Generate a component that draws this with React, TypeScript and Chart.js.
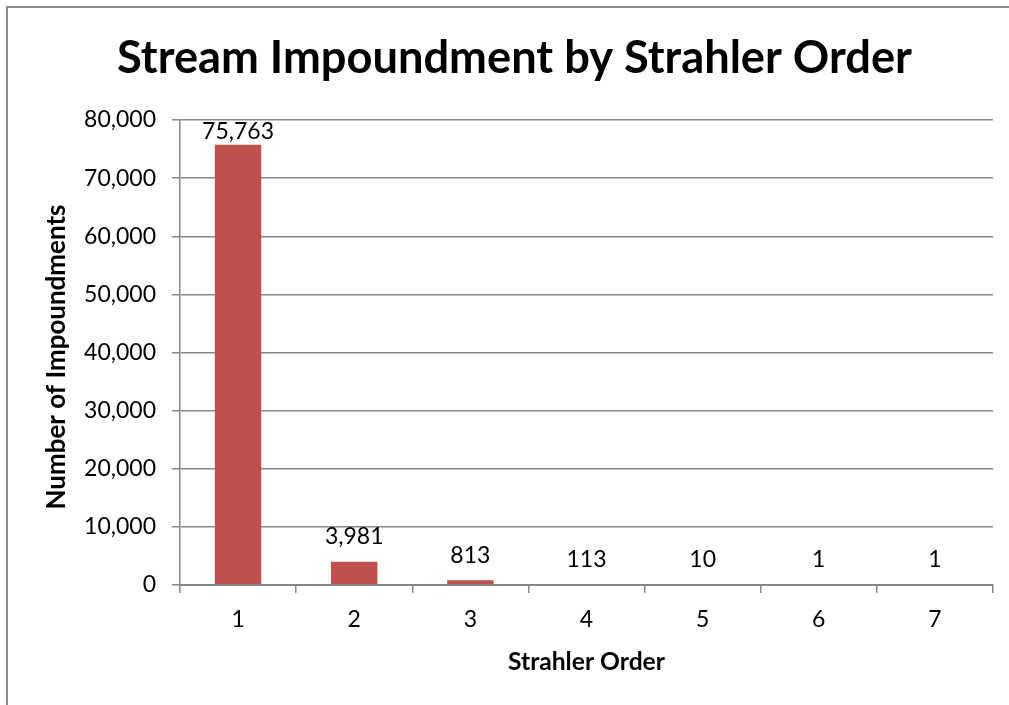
import React, { useEffect, useRef } from "react";
import { Chart, registerables } from "chart.js";

Chart.register(...registerables);

const categories: string[] = ["1", "2", "3", "4", "5", "6", "7"];
const impoundments: number[] = [75763, 3981, 813, 113, 10, 1, 1];
const yTicks: number[] = [0, 10000, 20000, 30000, 40000, 50000, 60000, 70000, 80000];
const chartTitle = "Stream Impoundment by Strahler Order";
const xTitle = "Strahler Order";
const yTitle = "Number of Impoundments";

const FONT = "Lato";
const GRAY = "#878787";
const BAR = "#C0504D";

function fitFont(ctx: CanvasRenderingContext2D, text: string, width: number, weight: string) {
  let size = 40;
  ctx.font = `${weight} ${size}px ${FONT}`;
  const w = ctx.measureText(text).width;
  size = (size * width) / w;
  return `${weight} ${size.toFixed(2)}px ${FONT}`;
}

const decorPlugin = {
  id: "decor",
  beforeDraw(chart: any) {
    const ctx = chart.ctx as CanvasRenderingContext2D;
    ctx.save();
    ctx.fillStyle = "#ffffff";
    ctx.fillRect(0, 0, chart.width, chart.height);
    ctx.strokeStyle = "#8c8c8c";
    ctx.lineWidth = 2;
    ctx.beginPath();
    ctx.moveTo(7, chart.height);
    ctx.lineTo(7, 7);
    ctx.lineTo(chart.width, 7);
    ctx.stroke();
    ctx.restore();
  },
  afterDraw(chart: any) {
    const ctx = chart.ctx as CanvasRenderingContext2D;
    const area = chart.chartArea;
    ctx.save();
    ctx.fillStyle = "#000000";
    ctx.textAlign = "center";
    ctx.textBaseline = "alphabetic";
    ctx.font = fitFont(ctx, chartTitle, 795, "bold");
    ctx.fillText(chartTitle, 514.5, 73);

    ctx.font = fitFont(ctx, xTitle, 157, "bold");
    ctx.fillText(xTitle, (area.left + area.right) / 2, 670);

    ctx.translate(65, 357);
    ctx.rotate(-Math.PI / 2);
    ctx.font = fitFont(ctx, yTitle, 305, "bold");
    ctx.fillText(yTitle, 0, 0);
    ctx.restore();
  },
  afterDatasetsDraw(chart: any) {
    const ctx = chart.ctx as CanvasRenderingContext2D;
    const meta = chart.getDatasetMeta(0);
    const area = chart.chartArea;
    ctx.save();
    ctx.fillStyle = "#000000";
    ctx.font = `23px ${FONT}`;
    ctx.textAlign = "center";
    ctx.textBaseline = "middle";
    meta.data.forEach((bar: any, i: number) => {
      const y = Math.max(bar.y - 25, area.top + 12);
      ctx.fillText(impoundments[i].toLocaleString("en-US"), bar.x, y);
    });
    ctx.restore();
  },
};

export default function App() {
  const ref = useRef<HTMLCanvasElement | null>(null);

  useEffect(() => {
    if (!ref.current) return;
    const chart = new Chart(ref.current, {
      type: "bar",
      data: {
        labels: categories,
        datasets: [
          {
            data: impoundments,
            backgroundColor: BAR,
            borderWidth: 0,
            inflateAmount: 0,
            barPercentage: 0.4,
            categoryPercentage: 1.0,
          },
        ],
      },
      options: {
        responsive: false,
        animation: false,
        devicePixelRatio: 1,
        layout: { padding: { top: 120, left: 0, right: 16, bottom: 0 } },
        plugins: {
          legend: { display: false },
          title: { display: false },
          tooltip: { enabled: false },
        },
        scales: {
          x: {
            type: "category",
            offset: true,
            afterFit: (scale: any) => {
              scale.height = 120;
            },
            grid: {
              offset: true,
              drawOnChartArea: false,
              drawTicks: true,
              tickLength: 8,
              color: GRAY,
              lineWidth: 1.5,
            },
            border: { display: true, color: GRAY, width: 2, z: 1 },
            ticks: {
              color: "#000000",
              font: { family: FONT, size: 23 },
              padding: 13,
            },
          },
          y: {
            min: 0,
            max: 80000,
            afterFit: (scale: any) => {
              scale.width = 180;
            },
            afterBuildTicks: (scale: any) => {
              scale.ticks = yTicks.map((v) => ({ value: v }));
            },
            grid: {
              color: GRAY,
              lineWidth: 1.5,
              tickLength: 8,
              drawTicks: true,
            },
            border: { display: true, color: GRAY, width: 1.5 },
            ticks: {
              color: "#000000",
              font: { family: FONT, size: 23 },
              padding: 16,
              callback: (v: any) => Number(v).toLocaleString("en-US"),
            },
          },
        },
      },
      plugins: [decorPlugin],
    });
    return () => chart.destroy();
  }, []);

  return (
    <canvas
      ref={ref}
      width={1009}
      height={705}
      style={{ position: "fixed", left: 0, top: 0, width: 1009, height: 705 }}
    />
  );
}
